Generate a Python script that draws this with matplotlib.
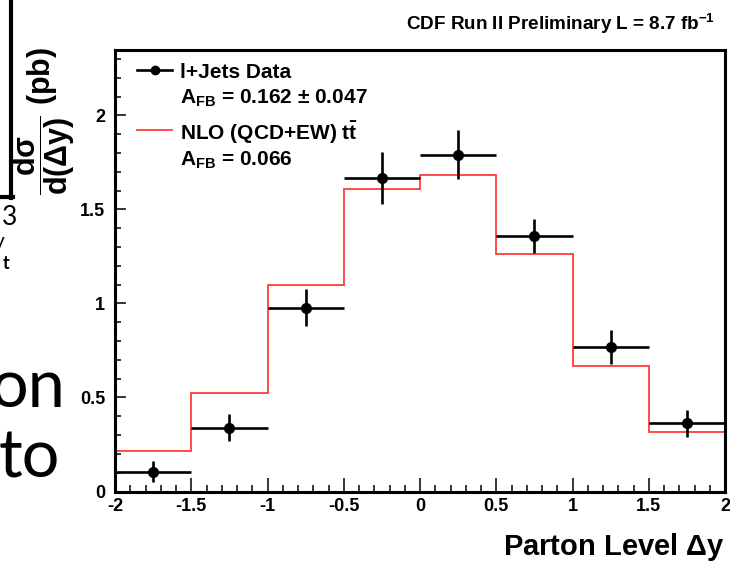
import matplotlib
matplotlib.use("Agg")
import matplotlib.pyplot as plt
from matplotlib.lines import Line2D
from matplotlib.ticker import MultipleLocator

# bins in delta y
edges = [-2.0, -1.5, -1.0, -0.5, 0.0, 0.5, 1.0, 1.5, 2.0]
centers = [-1.75, -1.25, -0.75, -0.25, 0.25, 0.75, 1.25, 1.75]

# l+jets data (pb)
data = [0.105, 0.34, 0.978, 1.667, 1.79, 1.36, 0.77, 0.363]
data_err = [0.057, 0.074, 0.097, 0.14, 0.131, 0.091, 0.09, 0.072]

# NLO (QCD+EW) prediction
nlo = [0.217, 0.525, 1.097, 1.61, 1.685, 1.265, 0.665, 0.315]

x_ticks = [-2, -1.5, -1, -0.5, 0, 0.5, 1, 1.5, 2]
x_ticklabels = ["-2", "-1.5", "-1", "-0.5", "0", "0.5", "1", "1.5", "2"]
y_ticks = [0, 0.5, 1, 1.5, 2]
y_ticklabels = ["0", "0.5", "1", "1.5", "2"]

plt.rcParams["font.family"] = ["Liberation Sans", "DejaVu Sans"]
plt.rcParams["font.weight"] = "bold"
plt.rcParams["mathtext.fontset"] = "custom"
plt.rcParams["mathtext.rm"] = "Liberation Sans:bold"
plt.rcParams["mathtext.it"] = "Liberation Sans:bold"
plt.rcParams["mathtext.bf"] = "Liberation Sans:bold"

W, H = 730, 562
fig = plt.figure(figsize=(W / 100, H / 100), dpi=100)


def fx(px):
    return px / W


def fy(py):
    return 1 - py / H


ax = fig.add_axes([fx(115), fy(491.5), fx(610), (491.5 - 49.5) / H])

# NLO histogram
ax.stairs(nlo, edges, baseline=0, color="#ff3b3b", linewidth=1.3, zorder=2)

# data with errors
xerr = [(edges[i + 1] - edges[i]) / 2 for i in range(len(centers))]
ax.errorbar(centers, data, yerr=data_err, xerr=xerr, fmt="o", color="black",
            markersize=7, elinewidth=1.9, capsize=0, zorder=3)

ax.set_xlim(-2, 2)
ax.set_ylim(0, 2.35)
ax.set_xticks(x_ticks)
ax.set_xticklabels(x_ticklabels)
ax.set_yticks(y_ticks)
ax.set_yticklabels(y_ticklabels)
ax.xaxis.set_minor_locator(MultipleLocator(0.1))
ax.yaxis.set_minor_locator(MultipleLocator(0.1))
ax.tick_params(axis="x", which="major", direction="in", length=10, width=1.1,
               labelsize=13, pad=5)
ax.tick_params(axis="x", which="minor", direction="in", length=5, width=1.1)
ax.tick_params(axis="y", which="major", direction="in", length=8, width=1.1,
               labelsize=13, pad=7)
ax.tick_params(axis="y", which="minor", direction="in", length=4, width=1.1)
for s in ax.spines.values():
    s.set_linewidth(2.2)

# axis titles
fig.text(fx(725), fy(555), r"Parton Level $\Delta$y", ha="right", va="baseline",
         fontsize=21, weight="bold")
fig.text(fx(44), fy(121), r"$\dfrac{d\sigma}{d(\Delta y)}$ (pb)", rotation=90,
         ha="center", va="center", fontsize=22, weight="bold")
fig.text(fx(715), fy(30), r"CDF Run II Preliminary L = 8.7 fb$^{-1}$",
         ha="right", va="baseline", fontsize=13.6, weight="bold")

# legend
fig.add_artist(Line2D([fx(137), fx(172)], [fy(70), fy(70)], color="black",
                      linewidth=1.9, transform=fig.transFigure))
fig.add_artist(Line2D([fx(154.5)], [fy(70)], color="black", marker="o",
                      markersize=6, transform=fig.transFigure))
fig.add_artist(Line2D([fx(137), fx(172)], [fy(130), fy(130)], color="#ff3b3b",
                      linewidth=1.3, transform=fig.transFigure))
leg_lines = [("l+Jets Data", 78), (r"A$_{FB}$ = 0.162 $\pm$ 0.047", 104),
             (r"NLO (QCD+EW) $t\bar{t}$", 140), (r"A$_{FB}$ = 0.066", 166)]
for txt, yb in leg_lines:
    fig.text(fx(180), fy(yb), txt, ha="left", va="baseline", fontsize=15,
             weight="bold")

# fragments of the slide around the plot
fig.add_artist(Line2D([fx(10.5), fx(10.5)], [fy(0), fy(198)], color="black",
                      linewidth=3, transform=fig.transFigure))
fig.add_artist(Line2D([fx(0), fx(12.5)], [fy(197), fy(197)], color="black",
                      linewidth=3, transform=fig.transFigure))
slide_font = ["Lato", "DejaVu Sans"]
fig.text(fx(2), fy(225), "3", ha="left", va="baseline", fontsize=19,
         family=slide_font, weight="normal")
fig.text(fx(-6), fy(248), "y", ha="left", va="baseline", fontsize=15,
         family=slide_font, weight="normal")
fig.text(fx(3), fy(269), "t", ha="left", va="baseline", fontsize=13,
         family=slide_font, weight="bold")
fig.text(fx(-10), fy(407), "on", ha="left", va="baseline", fontsize=48,
         family=slide_font, weight="normal")
fig.text(fx(-1), fy(477), "to", ha="left", va="baseline", fontsize=48,
         family=slide_font, weight="normal")

fig.savefig("out.png", dpi=100)
